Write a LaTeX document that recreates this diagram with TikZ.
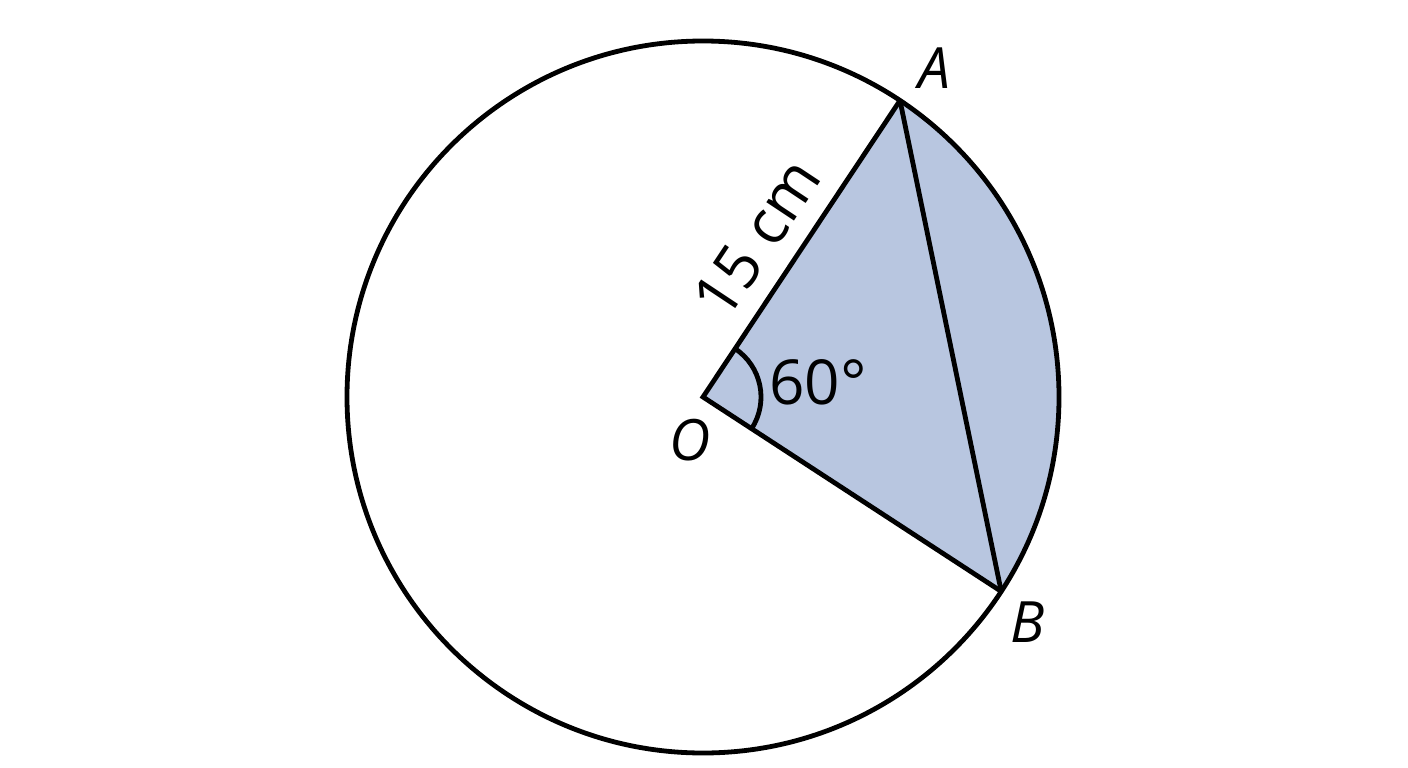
\documentclass[tikz,border=0pt]{standalone}
\usepackage{fontspec}
\setmainfont{Open Sans}
\usetikzlibrary{calc}
\definecolor{sectorblue}{RGB}{184,198,224}
\begin{document}
\begin{tikzpicture}[x=1pt,y=-1pt,line width=4.8pt,
  pointlabel/.style={font=\fontsize{57}{60}\selectfont\itshape,inner sep=0pt},
  measlabel/.style={font=\fontsize{62}{66}\selectfont,inner sep=0pt}]
\useasboundingbox[fill=white] (0,0) rectangle (1408,768);
\coordinate (O) at (703,397);
\coordinate (A) at ($(O)+(-56.4:356)$);
\coordinate (B) at ($(O)+(33.1:356)$);
% shaded sector
\fill[sectorblue] (O) -- (A) arc[start angle=-56.4,end angle=33.1,radius=356] -- cycle;
% circle
\draw (O) circle[radius=356];
% radii and chord
\draw (A) -- (O) -- (B);
\draw (A) -- (B);
% angle mark
\draw ($(O)+(-56.4:58)$) arc[start angle=-56.4,end angle=33.1,radius=58];
% labels
\node[pointlabel] (lA) at (934,68) {A};
\node[pointlabel] (lB) at (1028,622) {B};
\node[pointlabel] (lO) at (690,440) {O};
\node[measlabel] (ang) at (818,382) {60°};
\node[measlabel,rotate=56.4] (len) at (757,238) {15 cm};
\end{tikzpicture}
\end{document}
